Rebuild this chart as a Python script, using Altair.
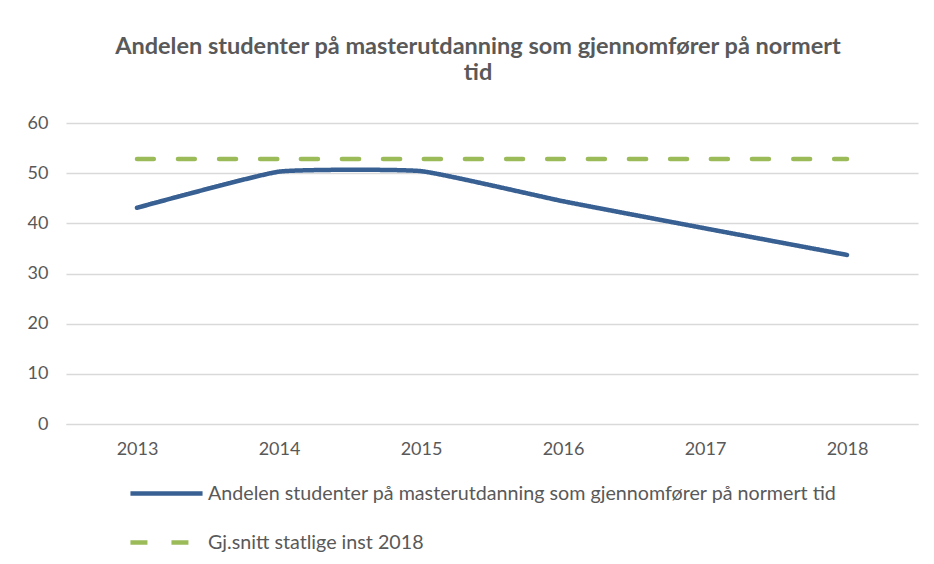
import altair as alt
import pandas as pd

years = ["2013", "2014", "2015", "2016", "2017", "2018"]
series_main = "Andelen studenter på masterutdanning som gjennomfører på normert tid"
series_avg = "Gj.snitt statlige inst 2018"
main_values = [43.1, 50.3, 50.4, 44.4, 39.0, 33.7]
avg_values = [52.8, 52.8, 52.8, 52.8, 52.8, 52.8]

rows = []
for y, v in zip(years, main_values):
    rows.append({"År": y, "Serie": series_main, "Verdi": v})
for y, v in zip(years, avg_values):
    rows.append({"År": y, "Serie": series_avg, "Verdi": v})
df = pd.DataFrame(rows)

FONT = "Lato"
GREY = "#595959"

chart = alt.Chart(df).mark_line(strokeWidth=4.5, strokeCap="round", interpolate="cardinal", tension=0.6).encode(
    x=alt.X("År:N", sort=years, title=None,
            scale=alt.Scale(paddingOuter=0.5),
            axis=alt.Axis(labelAngle=0, labelPadding=16, ticks=False, domain=True,
                          domainColor="#D9D9D9", labelFontSize=18, labelColor=GREY, labelFont=FONT)),
    y=alt.Y("Verdi:Q", title=None,
            scale=alt.Scale(domain=[0, 60]),
            axis=alt.Axis(values=[0, 10, 20, 30, 40, 50, 60], ticks=False, domain=False,
                          labelPadding=18, gridColor="#D9D9D9", gridWidth=1.3,
                          labelFontSize=18, labelColor=GREY, labelFont=FONT)),
    color=alt.Color("Serie:N", sort=[series_main, series_avg],
                    scale=alt.Scale(domain=[series_main, series_avg], range=["#386092", "#9BBB59"]),
                    legend=alt.Legend(title=None, orient="none", legendX=62, legendY=332,
                                      direction="vertical", symbolType="stroke",
                                      symbolSize=5200, symbolStrokeWidth=4.5,
                                      labelFontSize=19.7, labelColor=GREY, labelFont=FONT,
                                      labelLimit=800, rowPadding=-31, labelOffset=3)),
    strokeDash=alt.StrokeDash("Serie:N", sort=[series_main, series_avg],
                              scale=alt.Scale(domain=[series_main, series_avg], range=[[1, 0], [17, 24]]),
                              legend=None),
).properties(
    width=852,
    height=301,
    background="white",
    title=alt.TitleParams(
        text=["Andelen studenter på masterutdanning som gjennomfører på normert", "tid"],
        font=FONT, fontSize=23.5, fontWeight="bold", color=GREY,
        anchor="middle", dx=-14, offset=30, lineHeight=26,
    ),
    padding={"left": 58, "top": 115, "right": 8, "bottom": 132},
    autosize=alt.AutoSizeParams(type="none"),
).configure_view(stroke=None)

chart.save("out.html", embed_options={"renderer": "svg", "actions": False})
